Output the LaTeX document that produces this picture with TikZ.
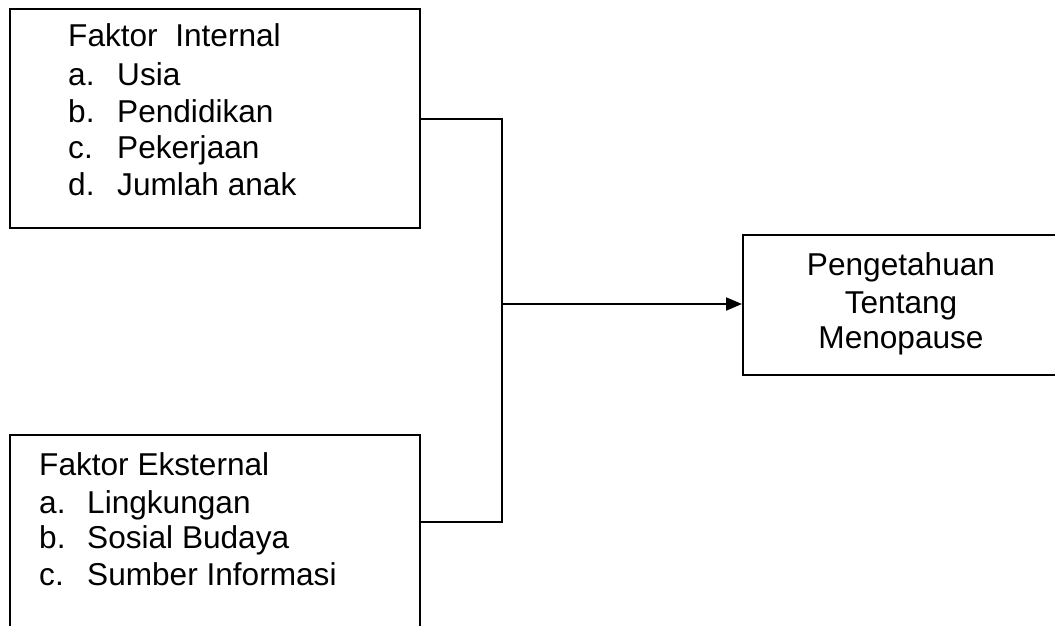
\documentclass[tikz,border=0pt]{standalone}
\usepackage{fontspec}
\setmainfont{Liberation Sans}
\usetikzlibrary{arrows.meta}
\begin{document}
\begin{tikzpicture}[x=1pt,y=-1pt,
  boxstyle/.style={draw,line width=2pt,rectangle,inner sep=0pt,anchor=north west},
  txt/.style={anchor=base west,inner sep=0pt,font=\fontsize{31.6}{38}\selectfont},
  ctxt/.style={anchor=base,inner sep=0pt,font=\fontsize{31.6}{38}\selectfont},
  conn/.style={line width=2pt}]
\useasboundingbox (0,0) rectangle (1055,626);
\clip (0,0) rectangle (1055,626);
\fill[white] (0,0) rectangle (1055,626);
% boxes
\node[boxstyle,minimum width=410pt,minimum height=219pt] (internal) at (9,8) {};
\node[boxstyle,minimum width=410pt,minimum height=266pt] (external) at (9,434) {};
\node[boxstyle,minimum width=360pt,minimum height=140pt] (outcome) at (742,234) {};
% texts internal
\node[txt] (ti0) at (68,47) {Faktor\ \ Internal};
\node[txt] (ti1) at (68,85) {a.};
\node[txt] (ti1b) at (117,85) {Usia};
\node[txt] (ti2) at (68,122) {b.};
\node[txt] (ti2b) at (117,122) {Pendidikan};
\node[txt] (ti3) at (68,158) {c.};
\node[txt] (ti3b) at (117,158) {Pekerjaan};
\node[txt] (ti4) at (68,195) {d.};
\node[txt] (ti4b) at (117,195) {Jumlah anak};
% texts external
\node[txt] (te0) at (39,475) {Faktor Eksternal};
\node[txt] (te1) at (39,513) {a.};
\node[txt] (te1b) at (87,513) {Lingkungan};
\node[txt] (te2) at (39,548) {b.};
\node[txt] (te2b) at (87,548) {Sosial Budaya};
\node[txt] (te3) at (39,585) {c.};
\node[txt] (te3b) at (87,585) {Sumber Informasi};
% outcome text
\node[ctxt] (to1) at (901,275) {Pengetahuan};
\node[ctxt] (to2) at (901,313) {Tentang};
\node[ctxt] (to3) at (901,348) {Menopause};
% connectors
\coordinate (junction) at (502,304);
\coordinate (extout) at (419,522);
\draw[conn] (internal.east) -| (junction);
\draw[conn] (extout) -| (junction);
\draw[conn,-{Triangle[length=16pt,width=13pt]}] (junction) -- (outcome.west |- junction);
\end{tikzpicture}
\end{document}
